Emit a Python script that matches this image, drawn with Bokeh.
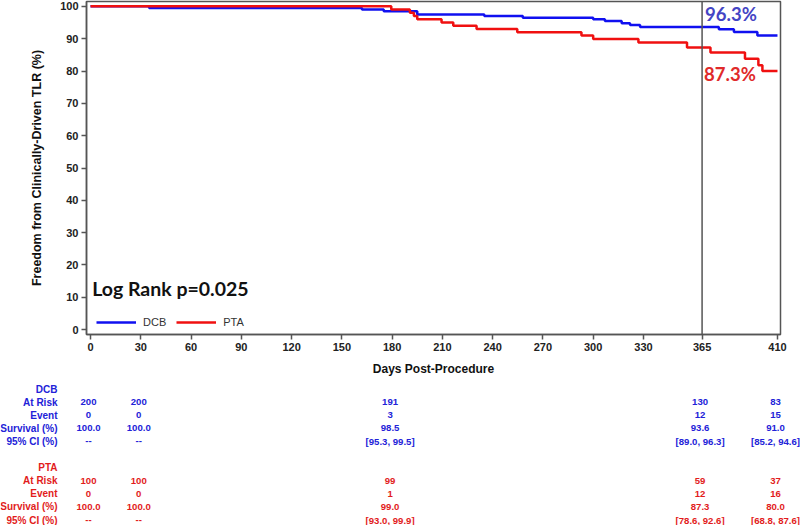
import numpy as np
from bokeh.plotting import figure
from bokeh.models import (Range1d, FixedTicker, Span, Label, Legend, LegendItem,
                          ColumnDataSource)
from bokeh.embed import file_html
from bokeh.resources import INLINE
from bokeh.core.properties import value

# ---------------- data ----------------
dcb_days = [0, 35, 162, 175, 195, 235, 258, 300, 307, 317, 322, 328, 375, 384, 398]
dcb_surv = [100.0, 99.5, 99.0, 98.5, 97.5, 97.0, 96.5, 96.0, 95.5, 94.8, 94.2, 93.6, 92.9, 92.1, 91.0]
pta_days = [0, 179.5, 190.6, 193, 195, 209.5, 216.5, 230.4, 254.7, 293, 300, 327, 356, 370, 390.6, 398.6, 401]
pta_surv = [100.0, 99.0, 98.0, 97.0, 96.0, 95.0, 94.0, 93.0, 92.0, 91.0, 89.9, 88.8, 87.3, 85.7, 83.8, 81.8, 80.0]
last_day = 410

x_ticks = [0, 30, 60, 90, 120, 150, 180, 210, 240, 270, 300, 330, 365, 410]
y_ticks = [0, 10, 20, 30, 40, 50, 60, 70, 80, 90, 100]
landmark_day = 365
dcb_landmark = "96.3%"
pta_landmark = "87.3%"
log_rank = "Log Rank p=0.025"
groups = ["DCB", "PTA"]

table_days = [0, 30, 180, 365, 410]
row_labels = ["At Risk", "Event", "Survival (%)", "95% CI (%)"]
dcb_at_risk = ["200", "200", "191", "130", "83"]
dcb_event = ["0", "0", "3", "12", "15"]
dcb_survival = ["100.0", "100.0", "98.5", "93.6", "91.0"]
dcb_ci = ["--", "--", "[95.3, 99.5]", "[89.0, 96.3]", "[85.2, 94.6]"]
pta_at_risk = ["100", "100", "99", "59", "37"]
pta_event = ["0", "0", "1", "12", "16"]
pta_survival = ["100.0", "100.0", "99.0", "87.3", "80.0"]
pta_ci = ["--", "--", "[93.0, 99.9]", "[78.6, 92.6]", "[68.8, 87.6]"]

# ---------------- style ----------------
BLUE = "#1010f0"
RED = "#f01010"
BLUE_T = "#2222d8"
RED_T = "#e21c1c"
BLUE_L = "#4444c4"
RED_L = "#e02a2a"
AX = "#555555"
ARIAL = "Liberation Sans"
CAL = "Lato"

W = 800
FW, FH = 694, 333
ML, MR, MT, MB = 86, W - 86 - 694, 1, 45
X0, X1 = -2.4, 411.8
Y0, Y1 = -1.5, 101.5


def steps(days, surv, end):
    xs, ys = [], []
    for i, (d, s) in enumerate(zip(days, surv)):
        if i > 0:
            xs.append(d)
            ys.append(surv[i - 1])
        xs.append(d)
        ys.append(s)
    xs.append(end)
    ys.append(surv[-1])
    return xs, ys


p = figure(frame_width=FW, frame_height=FH, min_border_left=ML, min_border_right=MR,
           min_border_top=MT, min_border_bottom=MB,
           x_range=Range1d(X0, X1), y_range=Range1d(Y0, Y1),
           output_backend="svg", toolbar_location=None)
p.grid.visible = False
p.outline_line_color = AX
p.outline_line_width = 1.5
p.background_fill_color = "white"
p.border_fill_color = "white"

bx, by = steps(dcb_days, dcb_surv, last_day)
rx, ry = steps(pta_days, pta_surv, last_day)
rb = p.line(bx, by, line_color=BLUE, line_width=2.5)
rr = p.line(rx, ry, line_color=RED, line_width=2.5)

p.add_layout(Span(location=landmark_day, dimension="height", line_color=AX, line_width=1.5))

for ax in (p.xaxis[0], p.yaxis[0]):
    ax.axis_line_color = AX
    ax.axis_line_width = 1.5
    ax.major_tick_line_color = AX
    ax.major_tick_line_width = 1.5
    ax.major_tick_out = 5
    ax.major_tick_in = 0
    ax.minor_tick_line_color = None
    ax.major_label_text_font = ARIAL
    ax.major_label_text_font_style = "bold"
    ax.major_label_text_font_size = "11px"
    ax.major_label_text_color = "#222222"
    ax.axis_label_text_font = ARIAL
    ax.axis_label_text_font_style = "bold"
    ax.axis_label_text_color = "#111111"
    ax.major_label_standoff = 3

p.xaxis.axis_label_text_font_size = "12px"
p.yaxis.axis_label_text_font_size = "12.5px"
p.xaxis.ticker = FixedTicker(ticks=x_ticks)
p.yaxis.ticker = FixedTicker(ticks=y_ticks)
p.xaxis.axis_label = "Days Post-Procedure"
p.yaxis.axis_label = "Freedom from Clinically-Driven TLR (%)"
p.xaxis.axis_label_standoff = 8
p.yaxis.axis_label_standoff = 13

p.add_layout(Label(x=landmark_day, y=97.6, x_offset=3, text=dcb_landmark,
                   text_font=CAL, text_font_style="bold", text_font_size="18.5px",
                   text_color=BLUE_L, text_baseline="middle"))
p.add_layout(Label(x=landmark_day, y=79.0, x_offset=2, text=pta_landmark,
                   text_font=CAL, text_font_style="bold", text_font_size="18.5px",
                   text_color=RED_L, text_baseline="middle"))
p.add_layout(Label(x=1.0, y=12.7, text=log_rank,
                   text_font=CAL, text_font_style="bold", text_font_size="19.5px",
                   text_color="#111111", text_baseline="middle"))

legend = Legend(items=[LegendItem(label=groups[0], renderers=[rb]),
                       LegendItem(label=groups[1], renderers=[rr])],
                orientation="horizontal", location=(10, 5))
legend.border_line_color = None
legend.background_fill_alpha = 0
legend.glyph_width = 40
legend.glyph_height = 14
legend.label_height = 14
legend.label_standoff = 7
legend.spacing = 10
legend.padding = 0
legend.margin = 0
legend.label_text_font = ARIAL
legend.label_text_font_size = "11px"
legend.label_text_color = "#333333"
p.add_layout(legend)

# ---------------- risk table (own root, frame spans full width) ----------------
TH = 146
ROW = 13.1
TOP = 9.5
ppd = FW / (X1 - X0)
tx0 = X0 - (ML - 2) / ppd
tx1 = tx0 + W / ppd
label_x = tx0 + 57 / ppd

t = figure(frame_width=W, frame_height=TH, min_border_left=0, min_border_right=0,
           min_border_top=0, min_border_bottom=0,
           x_range=Range1d(tx0, tx1), y_range=Range1d((TH - TOP) / ROW, -TOP / ROW),
           x_axis_location=None, y_axis_location=None,
           output_backend="svg", toolbar_location=None)
t.grid.visible = False
t.outline_line_color = None
t.background_fill_color = "white"
t.border_fill_color = "white"

blocks = [(groups[0], 0, BLUE_T, [dcb_at_risk, dcb_event, dcb_survival, dcb_ci]),
          (groups[1], 6, RED_T, [pta_at_risk, pta_event, pta_survival, pta_ci])]
for name, base, color, rows in blocks:
    lab = ColumnDataSource(dict(x=[label_x] * 5, y=[base + i for i in range(5)],
                                text=[name] + row_labels))
    t.text(x="x", y="y", text="text", source=lab, text_align="right",
           text_baseline="middle", text_font=value(ARIAL), text_font_style="bold",
           text_font_size="10px", text_color=color)
    xs, ys, ts = [], [], []
    for i, vals in enumerate(rows):
        for d, v in zip(table_days, vals):
            xs.append(d)
            ys.append(base + 1 + i)
            ts.append(v)
    src = ColumnDataSource(dict(x=xs, y=ys, text=ts))
    t.text(x="x", y="y", text="text", source=src, text_align="center",
           text_baseline="middle", text_font=value(ARIAL), text_font_style="bold",
           text_font_size="9.6px", text_color=color)

open("out.html", "w").write(file_html([p, t], INLINE))
